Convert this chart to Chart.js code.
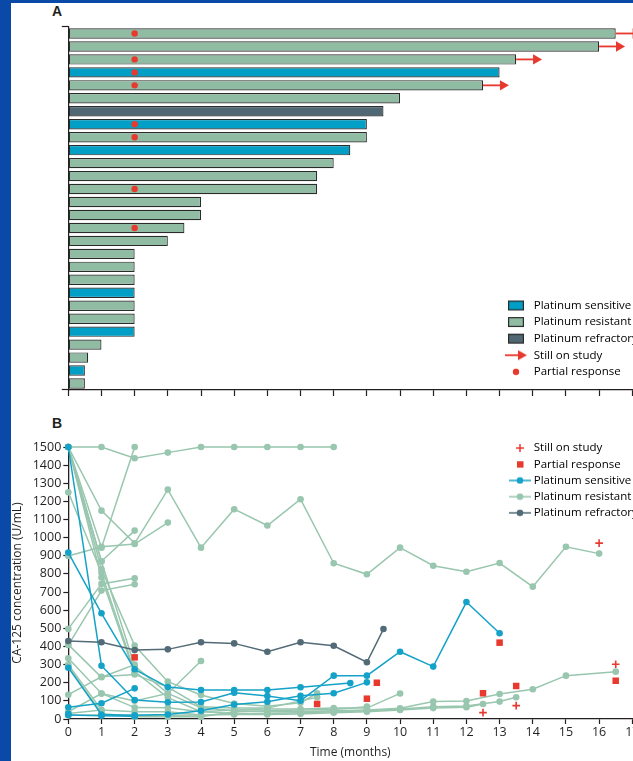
<!DOCTYPE html>
<html>
<head>
<meta charset="utf-8">
<script src="https://cdn.jsdelivr.net/npm/chart.js@4.4.1/dist/chart.umd.min.js"></script>
<style>
html,body{margin:0;padding:0;}
body{width:633px;height:761px;overflow:hidden;position:relative;background:#0b49a9;}
#sheet{position:absolute;left:11px;top:3px;width:700px;height:800px;background:#fff;}
.panel-label{position:absolute;font:bold 14px "Liberation Sans",Arial,sans-serif;color:#231f20;line-height:14px;}
canvas{position:absolute;left:0;}
</style>
</head>
<body>
<div id="sheet"></div>
<div class="panel-label" style="left:52px;top:4px">A</div>
<div class="panel-label" style="left:52px;top:416px">B</div>
<canvas id="swimmer" width="680" height="400" style="top:0"></canvas>
<canvas id="ca125" width="680" height="331" style="top:430px"></canvas>
<script>
// ---------- Panel A: time on study per patient ----------
const patientIds = ['P01','P02','P03','P04','P05','P06','P07','P08','P09','P10','P11','P12','P13','P14',
                    'P15','P16','P17','P18','P19','P20','P21','P22','P23','P24','P25','P26','P27','P28'];
const monthsOnStudy = [16.5,16,13.5,13,12.5,10,9.5,9,9,8.5,8,7.5,7.5,4,4,3.5,3,2,2,2,2,2,2,2,1,0.6,0.5,0.5];
const platinumGroup = ['resistant','resistant','resistant','sensitive','resistant','resistant','refractory',
                       'sensitive','resistant','sensitive','resistant','resistant','resistant','resistant',
                       'resistant','resistant','resistant','resistant','resistant','resistant','sensitive',
                       'resistant','resistant','sensitive','resistant','resistant','sensitive','resistant'];
const partialResponsePatients = ['P01','P03','P04','P05','P08','P09','P13','P16'];
const partialResponseMonths = [2,2,2,2,2,2,2,2];
const stillOnStudyPatients = ['P01','P02','P03','P05'];

// ---------- Panel B: CA-125 (U/mL) by month, one array per patient ----------
const refractory9_5 = [[0,430],[1,423],[2,380],[3,384],[4,423],[5,417],[6,371],[7,423],[8,404],[9,313],[9.5,496]];

const sensitive13  = [[0,1500],[1,294],[2,105],[3,92],[4,94],[5,145],[6,127],[7,101],[8,239],[9,239],[10,371],[11,289],[12,645],[13,473]];
const sensitive9   = [[0,283],[1,25],[2,20],[3,25],[4,45],[5,80],[6,95],[7,128],[8,142],[9,202]];
const sensitive8_5 = [[0,918],[1,583],[2,274],[3,176],[4,160],[5,160],[6,160],[7,175],[8.5,198]];
const sensitive2a  = [[0,65],[1,87],[2,169]];
const sensitive2b  = [[0,22],[1,18],[2,15]];
const sensitive0_5 = [[0,28]];

const resistant16_5 = [[0,1500],[1,868],[2,292],[3,141],[4,62],[5,45],[6,40],[7,40],[8,45],[9,50],[10,59],[11,96],[12,99],[13,138],[14,164],[15,239],[16.5,261]];
const resistant16   = [[0,1500],[1,1149],[2,969],[3,1265],[4,945],[5,1157],[6,1067],[7,1212],[8,859],[9,798],[10,945],[11,845],[12,812],[13,860],[14,730],[15,950],[16,912]];
const resistant13_5 = [[0,1250],[1,807],[2,261],[3,118],[4,40],[5,30],[6,30],[7,35],[8,40],[9,45],[10,55],[11,68],[12,72],[13,96],[13.5,120]];
const resistant12_5 = [[0,300],[1,50],[2,40],[3,40],[4,22],[5,25],[6,25],[7,28],[8,35],[9,40],[10,50],[11,60],[12,65],[12.5,83]];
const resistant10   = [[0,335],[1,141],[2,63],[3,62],[4,40],[5,50],[6,55],[7,55],[8,60],[9,60],[10,141]];
const resistant9    = [[0,290],[1,31],[2,13],[3,13],[4,13],[5,40],[6,45],[7,50],[8,53],[9,68]];
const resistant8    = [[0,1500],[1,1500],[2,1438],[3,1469],[4,1500],[5,1500],[6,1500],[7,1500],[8,1500]];
const resistant7_5a = [[0,1500],[1,826],[2,405],[3,206],[4,132],[5,85],[6,70],[7,90],[7.5,142]];
const resistant7_5b = [[0,134],[1,233],[2,246],[3,176],[4,68],[5,60],[6,60],[7,100],[7.5,120]];
const resistant4a   = [[0,40],[1,140],[2,100],[3,141],[4,320]];
const resistant4b   = [[0,20],[1,22],[2,20],[3,20],[4,22]];
const resistant3_5  = [[0,410],[1,230],[2,300]];
const resistant3    = [[0,899],[1,950],[2,965],[3,1083]];
const resistant2a   = [[0,1500],[1,945],[2,1500]];
const resistant2b   = [[0,1500],[1,870],[2,1039]];
const resistant2c   = [[0,497],[1,745],[2,776]];
const resistant2d   = [[0,408],[1,708],[2,743]];
const resistant2e   = [[0,1500],[1,780],[2,250]];
const resistant1    = [[0,30],[1,50]];
const resistant0_6  = [[0,1500]];
const resistant0_5  = [[0,20]];

const stillOnStudyMarks    = [[16,970],[16.5,302],[12.5,35],[13.5,74]];
const partialResponseMarks = [[2,340],[7.5,83],[9,112],[9.3,200],[12.5,142],[13,421],[13.5,182],[16.5,211]];

const sensitiveSeries = [sensitive13, sensitive9, sensitive8_5, sensitive2a, sensitive2b, sensitive0_5];
const resistantSeries = [resistant16_5, resistant16, resistant13_5, resistant12_5, resistant10, resistant9,
  resistant8, resistant7_5a, resistant7_5b, resistant4a, resistant4b, resistant3_5, resistant3, resistant2a,
  resistant2b, resistant2c, resistant2d, resistant2e, resistant1, resistant0_6, resistant0_5];
const refractorySeries = [refractory9_5];

// ---------- styling ----------
const INK = '#231f20';
const RED = '#e8392f';
const barFill  = { sensitive: '#019fc6', resistant: '#8fbca3', refractory: '#4f6873' };
const lineInk  = { sensitive: '#14a2c8', resistant: '#98c6ae', refractory: '#526b77' };
const FONT = '"Open Sans", "Liberation Sans", sans-serif';

function icon(w, h, paint) {
  const c = document.createElement('canvas');
  c.width = w; c.height = h;
  paint(c.getContext('2d'));
  return c;
}
const swatchIcon = fill => icon(18, 12, g => {
  g.fillStyle = fill; g.fillRect(1, 1, 16, 10);
  g.strokeStyle = '#2b2b2b'; g.lineWidth = 1.2; g.strokeRect(1.6, 1.6, 14.8, 8.8);
});
const arrowIcon = icon(22, 12, g => {
  g.strokeStyle = RED; g.lineWidth = 1.8;
  g.beginPath(); g.moveTo(0, 6); g.lineTo(13, 6); g.stroke();
  g.fillStyle = RED; g.beginPath(); g.moveTo(22, 6); g.lineTo(13, 1); g.lineTo(13, 11); g.closePath(); g.fill();
});
const dotIcon = icon(8, 8, g => { g.fillStyle = RED; g.beginPath(); g.arc(4, 4, 3.2, 0, Math.PI * 2); g.fill(); });
const crossIcon = icon(10, 10, g => {
  g.strokeStyle = RED; g.lineWidth = 1.5; g.beginPath();
  g.moveTo(1, 5); g.lineTo(9, 5); g.moveTo(5, 1); g.lineTo(5, 9); g.stroke();
});
const squareIcon = icon(8, 8, g => { g.fillStyle = RED; g.fillRect(1, 1, 6.5, 6.5); });
const lineDotIcon = col => icon(22, 8, g => {
  g.strokeStyle = col; g.lineWidth = 1.5; g.beginPath(); g.moveTo(0, 4); g.lineTo(22, 4); g.stroke();
  g.fillStyle = col; g.beginPath(); g.arc(11, 4, 3.3, 0, Math.PI * 2); g.fill();
});

// places a chartArea legend at a fixed spot inside the plot
const pinLegend = {
  id: 'pinLegend',
  afterLayout(chart, args, opts) {
    const lg = chart.legend;
    if (!lg) return;
    const pad = lg.options.labels.padding;
    lg.left = opts.x - pad;
    lg.top = opts.y - pad;
    lg.right = chart.width;
    lg.bottom = chart.height;
  }
};

function fixedSize(prop, value) { return scale => { scale[prop] = value; }; }

// ---------- Panel A chart ----------
const arrowLength = 0.6;
const arrowSets = stillOnStudyPatients.map(id => {
  const end = monthsOnStudy[patientIds.indexOf(id)];
  return {
    type: 'line', data: [{x: end, y: id}, {x: end + arrowLength, y: id}],
    borderColor: RED, borderWidth: 1.8, backgroundColor: RED,
    pointRadius: [0, 6], pointStyle: 'triangle', rotation: 90, pointBorderWidth: 0,
    pointBackgroundColor: RED, clip: false, order: 1
  };
});

new Chart(document.getElementById('swimmer'), {
  type: 'bar',
  data: {
    labels: patientIds,
    datasets: [
      {
        type: 'scatter', label: 'Partial response',
        data: partialResponsePatients.map((id, i) => ({x: partialResponseMonths[i], y: id})),
        pointRadius: 3.2, pointBackgroundColor: RED, pointBorderWidth: 0, order: 0
      },
      ...arrowSets,
      {
        label: 'Months on study', data: monthsOnStudy,
        backgroundColor: platinumGroup.map(g => barFill[g]),
        borderColor: '#2b2b2b', borderWidth: 1.2, borderSkipped: false,
        barPercentage: 0.8, categoryPercentage: 1, order: 2
      }
    ]
  },
  options: {
    indexAxis: 'y', responsive: false, animation: false, events: [],
    layout: { padding: { top: 27, right: 47.7, bottom: 0, left: 0 } },
    scales: {
      x: {
        type: 'linear', min: 0, max: 17,
        ticks: { stepSize: 1, display: false },
        grid: { drawOnChartArea: false, tickLength: 6, tickWidth: 1.2, tickColor: INK },
        border: { color: INK, width: 1.2 },
        afterFit: fixedSize('height', 10)
      },
      y: {
        type: 'category',
        ticks: { display: false },
        grid: {
          offset: true, drawOnChartArea: false, tickLength: 6.5, tickWidth: 1.2,
          tickColor: ctx => (ctx.index === 0 || ctx.index === undefined) ? INK : 'rgba(0,0,0,0)'
        },
        border: { color: INK, width: 1.2 },
        afterFit: fixedSize('width', 68.3)
      }
    },
    plugins: {
      tooltip: { enabled: false },
      pinLegend: { x: 504, y: 299.7 },
      legend: {
        position: 'chartArea', align: 'start',
        labels: {
          usePointStyle: true, pointStyleWidth: 24, padding: 5.1, color: INK,
          font: { family: FONT, size: 11.5 },
          generateLabels: () => [
            { text: 'Platinum sensitive', pointStyle: swatchIcon(barFill.sensitive) },
            { text: 'Platinum resistant', pointStyle: swatchIcon(barFill.resistant) },
            { text: 'Platinum refractory', pointStyle: swatchIcon(barFill.refractory) },
            { text: 'Still on study', pointStyle: arrowIcon },
            { text: 'Partial response', pointStyle: dotIcon }
          ]
        }
      }
    }
  },
  plugins: [pinLegend]
});

// ---------- Panel B chart ----------
const lineSet = (points, group) => ({
  type: 'line', data: points,
  borderColor: lineInk[group], backgroundColor: lineInk[group],
  pointBackgroundColor: lineInk[group], pointBorderWidth: 0,
  pointRadius: 3.3, borderWidth: 1.5, tension: 0, clip: false
});

new Chart(document.getElementById('ca125'), {
  type: 'line',
  data: {
    datasets: [
      { type: 'scatter', label: 'Still on study', data: stillOnStudyMarks, pointStyle: 'cross',
        pointRadius: 3.8, pointBorderColor: RED, pointBorderWidth: 1.6, clip: false },
      { type: 'scatter', label: 'Partial response', data: partialResponseMarks, pointStyle: 'rect',
        pointRadius: 4.6, pointBackgroundColor: RED, pointBorderWidth: 0, clip: false },
      ...refractorySeries.map(s => lineSet(s, 'refractory')),
      ...sensitiveSeries.map(s => lineSet(s, 'sensitive')),
      ...resistantSeries.map(s => lineSet(s, 'resistant'))
    ]
  },
  options: {
    responsive: false, animation: false, events: [],
    layout: { padding: { top: 17, right: 47.7, bottom: 0, left: 0 } },
    scales: {
      x: {
        type: 'linear', min: 0, max: 17,
        ticks: { stepSize: 1, color: INK, font: { family: FONT, size: 12.5 }, padding: 1, maxRotation: 0, autoSkip: false },
        grid: { drawOnChartArea: false, tickLength: 5, tickWidth: 1.2, tickColor: INK },
        border: { color: INK, width: 1.3 },
        title: { display: true, text: 'Time (months)', color: INK, font: { family: FONT, size: 12 }, padding: { top: 0, bottom: 1 } },
        afterFit: fixedSize('height', 42)
      },
      y: {
        type: 'linear', min: 0, max: 1500,
        ticks: { stepSize: 100, color: INK, font: { family: FONT, size: 12.5 }, padding: 2, callback: v => String(v) },
        grid: { drawOnChartArea: false, tickLength: 5, tickWidth: 1.2, tickColor: INK },
        border: { color: INK, width: 1.3 },
        title: { display: true, text: 'CA-125 concentration (U/mL)', color: INK, font: { family: FONT, size: 12 }, padding: { top: 10.8, bottom: 0 } },
        afterFit: fixedSize('width', 68.3)
      }
    },
    plugins: {
      tooltip: { enabled: false },
      pinLegend: { x: 512, y: 442.3 - 430 },
      legend: {
        position: 'chartArea', align: 'start',
        labels: {
          usePointStyle: true, pointStyleWidth: 16, padding: 4.7, color: INK,
          font: { family: FONT, size: 11.5 },
          generateLabels: () => [
            { text: 'Still on study', pointStyle: crossIcon },
            { text: 'Partial response', pointStyle: squareIcon },
            { text: 'Platinum sensitive', pointStyle: lineDotIcon(lineInk.sensitive) },
            { text: 'Platinum resistant', pointStyle: lineDotIcon(lineInk.resistant) },
            { text: 'Platinum refractory', pointStyle: lineDotIcon(lineInk.refractory) }
          ]
        }
      }
    }
  },
  plugins: [pinLegend]
});
</script>
</body>
</html>
